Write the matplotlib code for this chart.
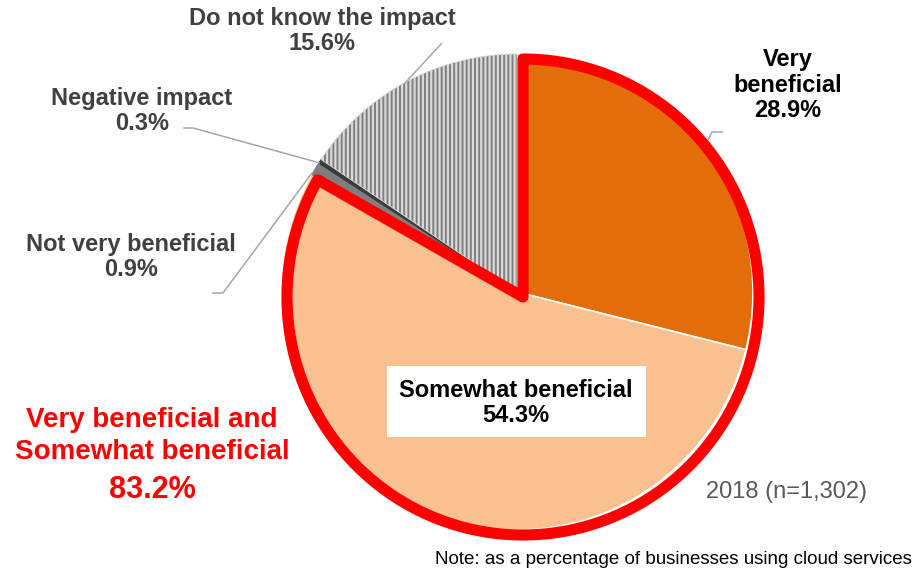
import matplotlib.pyplot as plt
from matplotlib.patches import Wedge, Rectangle

plt.rcParams['font.family'] = ['Liberation Sans', 'DejaVu Sans']
plt.rcParams['hatch.linewidth'] = 1.6

# Impact of cloud services, share of businesses (%)
categories = ['Very\nbeneficial', 'Somewhat beneficial', 'Not very beneficial',
              'Negative impact', 'Do not know the impact']
shares = [28.9, 54.3, 0.9, 0.3, 15.6]
colors = ['#E46C0A', '#FAC090', '#7F7F7F', '#3A3A3A', '#7F7F7F']
combined_label = 'Very beneficial and\nSomewhat beneficial'
combined_share = shares[0] + shares[1]
year_label = '2018 (n=1,302)'
note = 'Note: as a percentage of businesses using cloud services'

W, H = 916, 569
fig = plt.figure(figsize=(W / 100, H / 100), dpi=100)

# pie sits in its own axes (pixel layout: centre and radii)
cx, cy, rx, ry = 517, 292, 236, 238
m = 1.2
pax = fig.add_axes([(cx - m * rx) / W, 1 - (cy + m * ry) / H,
                    2 * m * rx / W, 2 * m * ry / H])
wedges, _ = pax.pie(shares, colors=colors, startangle=90, counterclock=False,
                    wedgeprops=dict(edgecolor='white', linewidth=1.2))
unknown = wedges[4]
unknown.set_edgecolor('#D9D9D9')
unknown.set_hatch('||||')
unknown.set_linewidth(0.6)
wedges[3].set_edgecolor('#3A3A3A')
wedges[3].set_linewidth(0.6)
wedges[2].set_edgecolor('#7F7F7F')
wedges[2].set_linewidth(0.6)
pax.set_aspect('auto')
pax.set_xlim(-m, m)
pax.set_ylim(-m, m)
pax.axis('off')

# red outline around the two "beneficial" slices
theta_start = 90 - 360 * combined_share / sum(shares)
outline = Wedge((6 / rx, -5 / ry), 1.0, theta_start, 90, fill=False,
                edgecolor='#FF0000', linewidth=8, joinstyle='round')
pax.add_patch(outline)

# overlay axes in pixel coordinates for labels and leader lines
ax = fig.add_axes([0, 0, 1, 1])
ax.set_zorder(3)
ax.set_xlim(0, W)
ax.set_ylim(H, 0)
ax.axis('off')

lab_kw = dict(fontsize=17, fontweight='bold', ha='center', va='center',
              linespacing=1.15)
grey = '#404040'
ax.text(322, 31, f'{categories[4]}\n{shares[4]}%', color=grey, **lab_kw)
ax.text(142, 111, f'{categories[3]}\n{shares[3]}%', color=grey, **lab_kw)
ax.text(131, 257, f'{categories[2]}\n{shares[2]}%', color=grey, **lab_kw)
ax.text(788, 85, f'{categories[0]}\n{shares[0]}%', color='black', **lab_kw)

ax.add_patch(Rectangle((387, 366), 259, 71, facecolor='white', edgecolor='none'))
ax.text(516, 403, f'{categories[1]}\n{shares[1]}%', color='black', **lab_kw)

# leader lines
lc = dict(color='#A6A6A6', linewidth=1.1, solid_capstyle='butt')
ax.plot([442, 405], [43, 83], **lc)
ax.plot([183, 193, 320], [128, 128, 163], **lc)
ax.plot([212, 223, 312], [293, 293, 173], **lc)
ax.plot([708, 712, 723], [140, 132, 132], **lc)

ax.text(152, 436, combined_label, color='#FF0000', fontsize=20,
        fontweight='bold', ha='center', va='center', linespacing=1.3)
ax.text(152, 490, f'{combined_share:.1f}%', color='#FF0000', fontsize=22,
        fontweight='bold', ha='center', va='center')

ax.text(786, 492, year_label, color='#595959', fontsize=17,
        ha='center', va='center')
ax.text(912, 559, note, color='black', fontsize=13.5, ha='right', va='center')

fig.savefig('out.png', dpi=100)
